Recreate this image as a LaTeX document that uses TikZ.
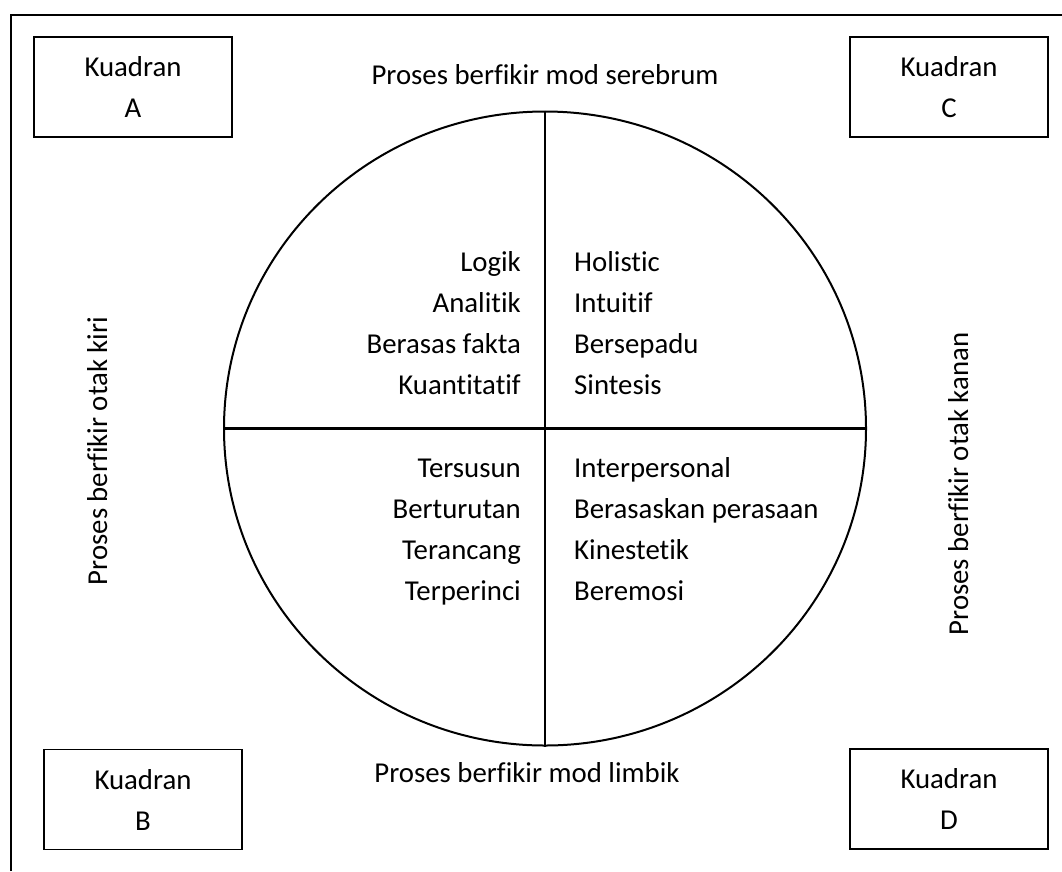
\documentclass[tikz,border=0pt]{standalone}
\usepackage{fontspec}
\setmainfont[Ligatures={NoCommon,NoRare}]{Carlito}
\usetikzlibrary{shapes.geometric}
\begin{document}
\begin{tikzpicture}[x=1pt,y=-1pt]
 \tikzset{every node/.style={font=\fontsize{28.8}{41}\selectfont, inner sep=0pt}}
 \tikzset{kuadran/.style={draw, line width=1.2pt, minimum width=198pt, minimum height=100pt, align=center}}
  \useasboundingbox (0,0) rectangle (1062,871);
  % frame
  \draw[line width=2.8pt] (11,871) -- (11,15) -- (1062,15);
  % corner boxes
  \node[kuadran] (KA) at (133,87) {Kuadran\\A};
  \node[kuadran] (KC) at (949,87) {Kuadran\\C};
  \node[kuadran] (KB) at (143,799.5) {Kuadran\\B};
  \node[kuadran] (KD) at (949,799) {Kuadran\\D};
  % mode labels
  \node[anchor=base] (serebrum) at (545,84) {Proses berfikir mod serebrum};
  \node[anchor=base] (limbik) at (527,782) {Proses berfikir mod limbik};
  \node[anchor=base, rotate=90] (kiri) at (107,451) {Proses berfikir otak kiri};
  \node[anchor=base, rotate=90] (kanan) at (968,484) {Proses berfikir otak kanan};
  % the wheel
  \node[draw, ellipse, line width=2pt, minimum width=642pt, minimum height=634pt] (wheel) at (545,428.5) {};
  \draw[line width=2.4pt] (wheel.north) -- (wheel.south);
  \draw[line width=2.4pt] (wheel.west) -- (wheel.east);
  % quadrant words
  \foreach \t [count=\i] in {Logik, Analitik, Berasas fakta, Kuantitatif}
    \node[anchor=base east] (A\i) at (521,{271+41*(\i-1)}) {\t};
  \foreach \t [count=\i] in {Holistic, Intuitif, Bersepadu, Sintesis}
    \node[anchor=base west] (C\i) at (574,{271+41*(\i-1)}) {\t};
  \foreach \t [count=\i] in {Tersusun, Berturutan, Terancang, Terperinci}
    \node[anchor=base east] (B\i) at (521,{477+41*(\i-1)}) {\t};
  \foreach \t [count=\i] in {Interpersonal, Berasaskan perasaan, Kinestetik, Beremosi}
    \node[anchor=base west] (D\i) at (574,{477+41*(\i-1)}) {\t};
\end{tikzpicture}
\end{document}
